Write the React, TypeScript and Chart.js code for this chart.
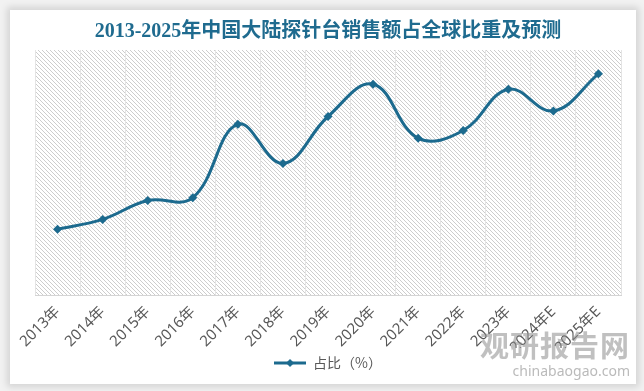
import React, { useEffect, useRef } from "react";
import { Chart, registerables } from "chart.js";

Chart.register(...registerables);

const titleText = "2013-2025年中国大陆探针台销售额占全球比重及预测";
const seriesLabel = "占比（%）";
const categories = [
  "2013年", "2014年", "2015年", "2016年", "2017年", "2018年", "2019年",
  "2020年", "2021年", "2022年", "2023年", "2024年E", "2025年E",
];
const shareValues = [9.4, 10.8, 13.5, 13.9, 24.4, 18.8, 25.5, 30.1, 22.4, 23.5, 29.4, 26.3, 31.6];
const yMin = 0;
const yMax = 35;

const LINE_COLOR = "#1c6a8e";

function makeHatch(): CanvasPattern | string {
  const c = document.createElement("canvas");
  c.width = 4;
  c.height = 4;
  const g = c.getContext("2d");
  if (!g) return "#f0f0f0";
  g.fillStyle = "#ffffff";
  g.fillRect(0, 0, 4, 4);
  g.fillStyle = "#cdcdcd";
  for (let i = 0; i < 4; i++) g.fillRect(i, i, 1, 1);
  const ctx = document.createElement("canvas").getContext("2d");
  return ctx ? (ctx.createPattern(c, "repeat") as CanvasPattern) : "#f0f0f0";
}

function makeLegendMarker(): HTMLCanvasElement {
  const c = document.createElement("canvas");
  c.width = 32;
  c.height = 12;
  const g = c.getContext("2d");
  if (g) {
    g.strokeStyle = LINE_COLOR;
    g.lineWidth = 3;
    g.beginPath();
    g.moveTo(0, 6);
    g.lineTo(32, 6);
    g.stroke();
    g.fillStyle = LINE_COLOR;
    g.beginPath();
    g.moveTo(16, 2);
    g.lineTo(20, 6);
    g.lineTo(16, 10);
    g.lineTo(12, 6);
    g.closePath();
    g.fill();
  }
  return c;
}

const hatchPlugin = {
  id: "hatchBg",
  beforeDraw(chart: any) {
    const { ctx, chartArea } = chart;
    if (!chartArea) return;
    ctx.save();
    ctx.fillStyle = makeHatch();
    ctx.fillRect(chartArea.left, chartArea.top, chartArea.right - chartArea.left, chartArea.bottom - chartArea.top);
    ctx.restore();
  },
};

export default function App() {
  const canvasRef = useRef<HTMLCanvasElement | null>(null);

  useEffect(() => {
    if (!canvasRef.current) return;
    const marker = makeLegendMarker();
    const chart = new Chart(canvasRef.current, {
      type: "line",
      data: {
        labels: categories,
        datasets: [
          {
            label: seriesLabel,
            data: shareValues,
            borderColor: LINE_COLOR,
            backgroundColor: LINE_COLOR,
            borderWidth: 3,
            tension: 0.4,
            pointStyle: "rectRot",
            pointRadius: 4.5,
            pointBorderWidth: 0,
            pointBackgroundColor: LINE_COLOR,
            fill: false,
          },
        ],
      },
      options: {
        responsive: false,
        animation: false,
        layout: { padding: { left: 25, right: 15, top: 0, bottom: 4 } },
        scales: {
          x: {
            offset: true,
            grid: { color: "#e4e4e4", offset: true, drawTicks: false, lineWidth: 1 },
            border: { color: "#d4d4d4", width: 1 },
            afterFit: (scale: any) => {
              scale.height = 53;
            },
            ticks: {
              autoSkip: false,
              minRotation: 45,
              maxRotation: 45,
              color: "#595959",
              padding: 8,
              font: { size: 15, family: '"Noto Sans", "Noto Sans CJK SC", sans-serif' },
            },
          },
          y: { display: false, min: yMin, max: yMax },
        },
        plugins: {
          title: {
            display: true,
            text: titleText,
            color: "#1f6b8f",
            padding: { top: 10, bottom: 6 },
            font: { size: 20, weight: "bold", family: '"Liberation Serif", "Noto Sans CJK SC", serif' },
          },
          legend: {
            position: "bottom",
            labels: {
              usePointStyle: true,
              pointStyleWidth: 32,
              color: "#595959",
              padding: 8,
              font: { size: 14, family: '"Noto Sans CJK SC", "Noto Sans", sans-serif' },
              generateLabels: (ch: any) =>
                ch.data.datasets.map((ds: any, i: number) => ({
                  text: ds.label,
                  fillStyle: LINE_COLOR,
                  strokeStyle: LINE_COLOR,
                  lineWidth: 0,
                  pointStyle: marker,
                  hidden: false,
                  datasetIndex: i,
                  fontColor: "#595959",
                })),
            },
          },
          tooltip: { enabled: false },
        },
      },
      plugins: [hatchPlugin],
    });
    return () => chart.destroy();
  }, []);

  return (
    <div style={{ position: "absolute", left: 0, top: 0, width: 644, height: 391, background: "#f2f2f2", overflow: "hidden" }}>
      <div
        style={{
          position: "absolute",
          left: 10,
          top: 10,
          width: 626,
          height: 374,
          background: "#ffffff",
          boxShadow: "0 0 7px 3px rgba(0,0,0,0.13)",
        }}
      >
        <canvas ref={canvasRef} width={626} height={374} style={{ width: 626, height: 374, display: "block" }} />
        <div
          style={{
            position: "absolute",
            right: 6,
            top: 318,
            color: "rgba(140,140,140,0.55)",
            fontFamily: '"Noto Sans CJK SC", sans-serif',
            fontWeight: "bold",
            fontSize: 29,
            letterSpacing: 1,
            lineHeight: "32px",
            pointerEvents: "none",
          }}
        >
          观研报告网
        </div>
        <div
          style={{
            position: "absolute",
            right: 6,
            top: 353,
            color: "rgba(140,140,140,0.6)",
            fontFamily: '"Noto Sans", sans-serif',
            fontSize: 14,
            lineHeight: "16px",
            pointerEvents: "none",
          }}
        >
          chinabaogao.com
        </div>
      </div>
    </div>
  );
}
